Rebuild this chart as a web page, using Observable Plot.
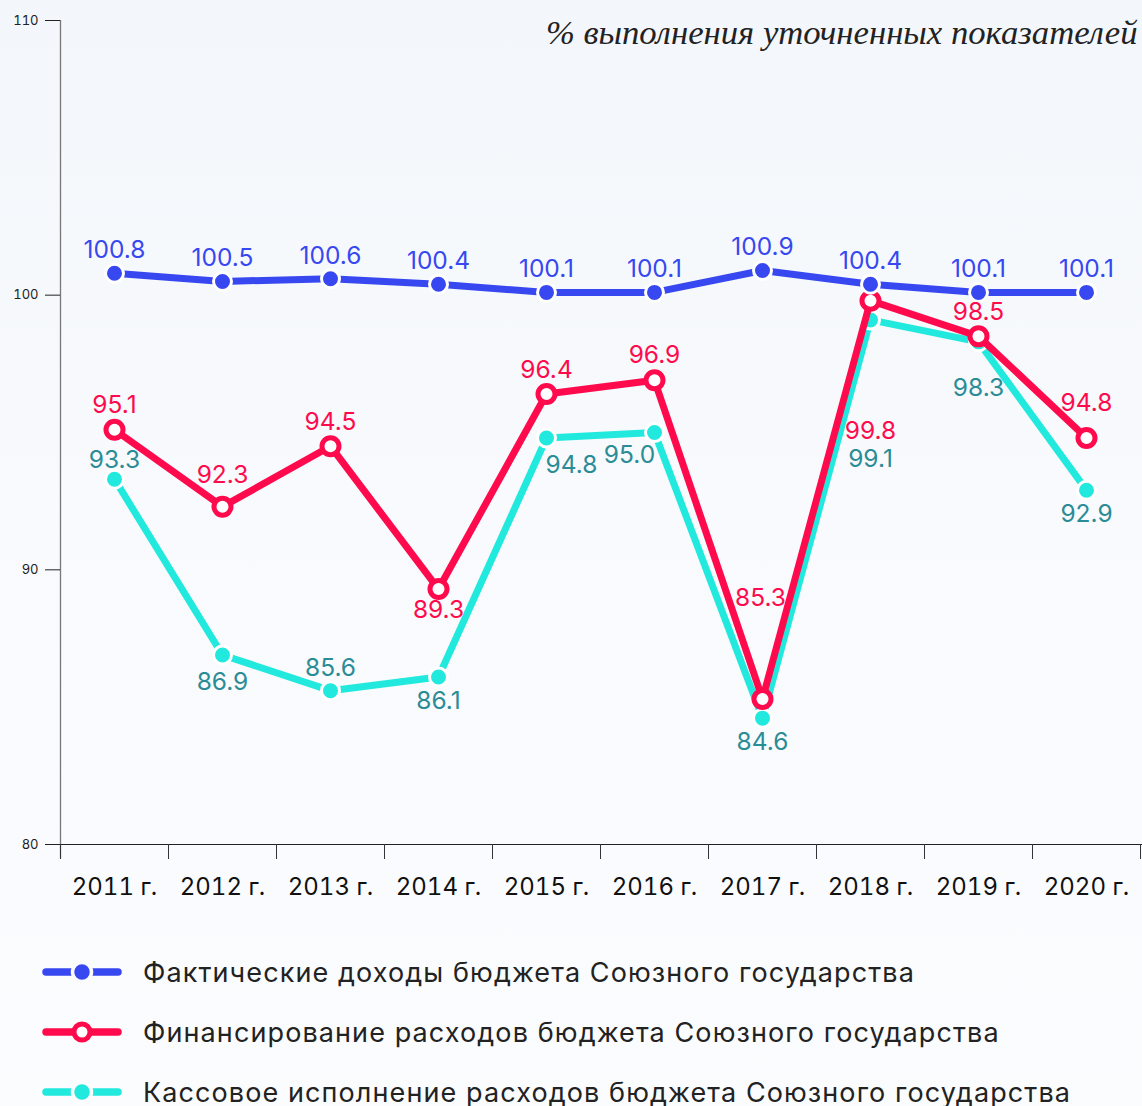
<!DOCTYPE html>
<html><head><meta charset="utf-8">
<script src="https://cdn.jsdelivr.net/npm/d3@7"></script>
<script src="https://cdn.jsdelivr.net/npm/@observablehq/plot@0.6"></script>
<style>
html,body{margin:0;padding:0;}
body{width:1142px;height:1106px;overflow:hidden;background:linear-gradient(#f3f7fb 0%,#f8fafd 45%,#fbfcfe 100%);font-family:Inter,"Noto Sans",sans-serif;}
#chart svg{display:block;background:transparent;}
#legend{padding-top:22px;padding-left:42px;}
.row{display:flex;align-items:center;height:60px;}
.row svg{display:block;margin-right:21px;}
.row span{font-size:27px;letter-spacing:1.1px;color:#222;font-family:Inter,"Noto Sans",sans-serif;white-space:nowrap;}
</style></head><body>
<div id="chart"></div>
<div id="legend"></div>
<script>
const years = [2011, 2012, 2013, 2014, 2015, 2016, 2017, 2018, 2019, 2020];
const incomeValues = [100.8, 100.5, 100.6, 100.4, 100.1, 100.1, 100.9, 100.4, 100.1, 100.1];
const financingValues = [95.1, 92.3, 94.5, 89.3, 96.4, 96.9, 85.3, 99.8, 98.5, 94.8];
const cashValues = [93.3, 86.9, 85.6, 86.1, 94.8, 95.0, 84.6, 99.1, 98.3, 92.9];
const seriesNames = [
  "Фактические доходы бюджета Союзного государства",
  "Финансирование расходов бюджета Союзного государства",
  "Кассовое исполнение расходов бюджета Союзного государства"
];
const yTicks = [80, 90, 100, 110];
const yearSuffix = " г.";
const title = "% выполнения уточненных показателей";

// label placement (style only, pixels)
const incomeLabelDy = [-23, -23, -23, -23, -23, -23, -23, -23, -23, -23];
const financingLabelDy = [-25, -32, -24, 21, -24, -25, -101, 130, -24, -35];
const financingLabelDx = [0, 0, 0, 0, 0, 0, -2, 0, 0, 0];
const cashLabelDy = [-19, 27, -23, 24, 27, 23, 24, 139, 46, 24];
const cashLabelDx = [0, 0, 0, 0, 25, -25, 0, 0, 0, 0];

const colors = {income: "#3848f0", financing: "#ff0a4c", cash: "#22e9dd", cashText: "#2a8c96"};

const mk = (vals) => years.map((y, i) => ({year: y, value: vals[i]}));
const income = mk(incomeValues), financing = mk(financingValues), cash = mk(cashValues);
const fmt = d3.format(".1f");
const boundaries = years.map(y => y - 0.5).concat([years[years.length - 1] + 0.5]);
const yAxisLine = [{x: boundaries[0], top: yTicks[yTicks.length - 1], bottom: yTicks[0]}];

function labels(data, dys, dxs, fill) {
  return data.map((d, i) => Plot.text([d], {
    x: "year", y: "value", text: d => fmt(d.value),
    dy: dys[i], dx: dxs ? dxs[i] : 0, fill, fontSize: 24.5, letterSpacing: "1.1px",
    fontFamily: "Inter, sans-serif", lineAnchor: "middle", textAnchor: "middle"
  }));
}

const chart = Plot.plot({
  width: 1142, height: 920,
  marginLeft: 60, marginRight: 2, marginTop: 20, marginBottom: 76,
  style: {background: "transparent", fontFamily: "Inter, sans-serif"},
  x: {type: "linear", domain: [boundaries[0], boundaries[boundaries.length - 1]]},
  y: {domain: [80, 110]},
  marks: [
    Plot.ruleX(yAxisLine, {x: "x", y1: "top", y2: "bottom", stroke: "#777", strokeWidth: 1.3, insetBottom: -14}),
    Plot.ruleY([80], {stroke: "#222", strokeWidth: 1.2, insetRight: -2}),
    Plot.axisY({ticks: yTicks, tickSize: 15, tickPadding: 7, fontSize: 13, color: "#222", label: null}),
    Plot.axisX({ticks: boundaries, tickSize: 15, tickFormat: () => "", stroke: "#333", label: null}),
    Plot.axisX({ticks: years, tickSize: 0, tickPadding: 33, fontSize: 24, letterSpacing: "0.3px", color: "#111", tickFormat: d => `${d}${yearSuffix}`, label: null}),
    Plot.line(cash, {x: "year", y: "value", stroke: colors.cash, strokeWidth: 7}),
    Plot.dot(cash, {x: "year", y: "value", r: 9, fill: colors.cash, stroke: "white", strokeWidth: 3}),
    Plot.line(financing, {x: "year", y: "value", stroke: colors.financing, strokeWidth: 7}),
    Plot.dot(financing, {x: "year", y: "value", r: 8.5, fill: "white", stroke: colors.financing, strokeWidth: 5}),
    Plot.line(income, {x: "year", y: "value", stroke: colors.income, strokeWidth: 7}),
    Plot.dot(income, {x: "year", y: "value", r: 9, fill: colors.income, stroke: "white", strokeWidth: 3}),
    ...labels(income, incomeLabelDy, null, colors.income),
    ...labels(financing, financingLabelDy, financingLabelDx, colors.financing),
    ...labels(cash, cashLabelDy, cashLabelDx, colors.cashText),
    Plot.text([title], {text: d => d, frameAnchor: "top-right", dx: -3, dy: 12, textAnchor: "end", lineAnchor: "middle",
      fontSize: 34.7, fontStyle: "italic", fontFamily: "Liberation Serif, serif", fill: "#222"})
  ]
});
document.getElementById("chart").appendChild(chart);

// legend
const legendItems = [
  {name: seriesNames[0], color: colors.income, hollow: false},
  {name: seriesNames[1], color: colors.financing, hollow: true},
  {name: seriesNames[2], color: colors.cash, hollow: false}
];
const legend = d3.select("#legend");
legendItems.forEach(it => {
  const row = legend.append("div").attr("class", "row");
  const svg = row.append("svg").attr("width", 80).attr("height", 26);
  svg.append("line").attr("x1", 4).attr("x2", 76).attr("y1", 13).attr("y2", 13)
    .attr("stroke", it.color).attr("stroke-width", 7.5).attr("stroke-linecap", "round");
  if (it.hollow) {
    svg.append("circle").attr("cx", 40).attr("cy", 13).attr("r", 8).attr("fill", "white")
      .attr("stroke", it.color).attr("stroke-width", 5);
  } else {
    svg.append("circle").attr("cx", 40).attr("cy", 13).attr("r", 9.5).attr("fill", it.color)
      .attr("stroke", "#fbfcfe").attr("stroke-width", 3.5);
  }
  row.append("span").text(it.name);
});
</script>
</body></html>
